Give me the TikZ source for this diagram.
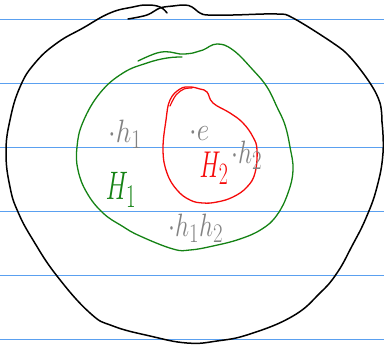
\documentclass[tikz,border=0pt]{standalone}
\usetikzlibrary{calc}
\definecolor{ruleblue}{RGB}{90,160,240}
\definecolor{penred}{RGB}{245,10,10}
\definecolor{pengreen}{RGB}{20,130,20}
\definecolor{pengray}{RGB}{130,130,130}
\tikzset{
  ruledband/.style={fill={rgb,255:red,90;green,160;blue,240}, draw=none},
  pen/.style={line width=1.5pt, line cap=round, line join=round},
  lbl/.style={inner sep=0pt, font=\Huge},
}
\begin{document}
\begin{tikzpicture}[x=1pt,y=-1pt]
\useasboundingbox (0,0) rectangle (384,346);
% ruled lines
\path[ruledband] (0,18.8) rectangle (384,20.4);
\path[ruledband] (0,82.8) rectangle (384,84.4);
\path[ruledband] (0,146.8) rectangle (384,148.4);
\path[ruledband] (0,210.8) rectangle (384,212.4);
\path[ruledband] (0,274.8) rectangle (384,276.4);
\path[ruledband] (0,338.8) rectangle (384,340.4);
% outer black
\draw[pen,black] plot[smooth,tension=0.75] coordinates {(167,13) (160,7) (147,5) (133,7) (110,13) (83,28) (57,43) (35,63) (20,87) (10,120) (6,153) (10,187) (18,212) (33,240) (57,276) (90,313) (113,326) (150,336) (187,343) (217,341) (250,334) (293,316) (320,293) (337,273) (352,246) (366,218) (377,187) (383,153) (382,122)};
\draw[pen,black] plot[smooth,tension=0.6] coordinates {(128,19) (147,15) (160,8) (173,6) (185,5) (192,7) (200,13) (208,15) (233,15) (277,14) (293,18) (333,43) (350,57) (370,83) (380,103) (382,122)};
% green H1
\draw[pen,pengreen,line width=1.3pt] plot[smooth,tension=0.7] coordinates {(138,61) (157,53) (170,52) (180,54) (193,53) (203,50) (217,44) (233,50) (253,70) (267,87) (277,107) (285,125) (290,147) (293,170) (288,193) (277,215) (262,229) (240,239) (213,246) (190,250) (173,249) (140,236) (122,226) (103,213) (87,193) (78,170) (77,147) (83,122) (100,93) (123,73) (147,63) (167,58) (182,57)};
% red H2
\draw[pen,penred,line width=1.3pt] plot[smooth cycle,tension=0.7] coordinates {(213,103) (207,92) (200,89) (190,87) (180,89) (170,100) (166,120) (163,150) (167,173) (177,190) (190,200) (203,203) (217,202) (233,197) (247,187) (255,173) (257,150) (253,137) (243,123) (230,113)};
\draw[pen,penred,line width=1.2pt] plot[smooth,tension=0.6] coordinates {(170,106) (176,95) (184,89) (192,88)};
% labels
\node[lbl,pengray,anchor=base west,xscale=1.1,yscale=1.3] (h1) at (108,142) {$\cdot h_1$};
\node[lbl,pengray,anchor=base west,xscale=1.1,yscale=1.3] (e) at (189,140) {$\cdot e$};
\node[lbl,pengray,anchor=base west,xscale=1.0,yscale=1.3] (h2) at (231,163) {$\cdot h_2$};
\node[lbl,pengray,anchor=base west,xscale=1.0,yscale=1.3] (h1h2) at (168,236) {$\cdot h_1h_2$};
\node[lbl,penred,xscale=0.95,yscale=1.5] (H2) at (214,168) {$H_2$};
\node[lbl,pengreen,xscale=1.0,yscale=1.6] (H1) at (121,190) {$H_1$};
\end{tikzpicture}
\end{document}
